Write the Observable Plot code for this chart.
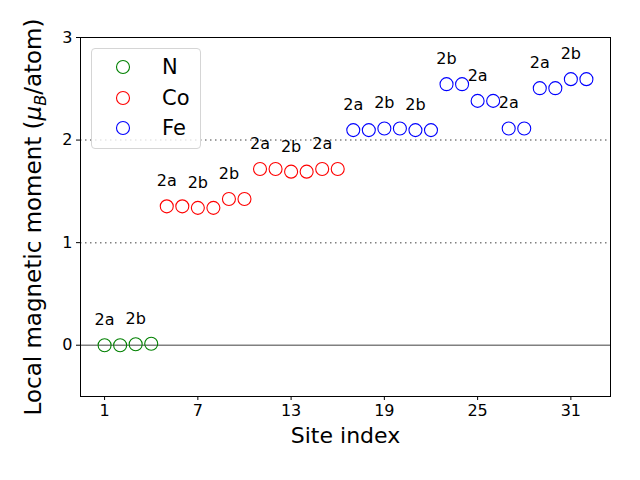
<!DOCTYPE html>
<html><head><meta charset="utf-8">
<script src="https://cdn.jsdelivr.net/npm/d3@7"></script>
<script src="https://cdn.jsdelivr.net/npm/@observablehq/plot@0.6"></script>
<style>
body{margin:0;background:#fff;}
#wrap{position:relative;width:640px;height:480px;font-family:"DejaVu Sans",sans-serif;}
.legend{position:absolute;left:91px;top:48px;width:110px;height:101px;border:1px solid #d5d5d5;border-radius:4px;background:rgba(255,255,255,0.8);box-sizing:border-box;}
.legend .row{position:absolute;left:0;height:30px;}
.legend svg{position:absolute;left:22px;}
.legend span{position:absolute;left:70px;font-size:21px;white-space:nowrap;line-height:30px;}
</style></head>
<body><div id="wrap"></div>
<script>
const elements = ["N", "Co", "Fe"];
const elementColors = ["#008000", "#ff0000", "#0000ff"];
const nSites = [1, 2, 3, 4];
const nMoments = [0.0, 0.0, 0.01, 0.015];
const coSites = [5, 6, 7, 8, 9, 10, 11, 12, 13, 14, 15, 16];
const coMoments = [1.354, 1.354, 1.339, 1.339, 1.426, 1.426, 1.718, 1.718, 1.692, 1.692, 1.718, 1.718];
const feSites = [17, 18, 19, 20, 21, 22, 23, 24, 25, 26, 27, 28, 29, 30, 31, 32];
const feMoments = [2.097, 2.097, 2.113, 2.113, 2.097, 2.097, 2.545, 2.545, 2.382, 2.382, 2.113, 2.113, 2.506, 2.506, 2.594, 2.594];
const labelSites = [1, 3, 5, 7, 9, 11, 13, 15, 17, 19, 21, 23, 25, 27, 29, 31];
const labelTexts = ["2a", "2b", "2a", "2b", "2b", "2a", "2b", "2a", "2a", "2b", "2b", "2b", "2a", "2a", "2a", "2b"];
const xTicks = [1, 7, 13, 19, 25, 31];
const yTicks = [0, 1, 2, 3];
const gridLevels = [1, 2];

const rows = [];
nSites.forEach((s, i) => rows.push({site: s, moment: nMoments[i], element: "N"}));
coSites.forEach((s, i) => rows.push({site: s, moment: coMoments[i], element: "Co"}));
feSites.forEach((s, i) => rows.push({site: s, moment: feMoments[i], element: "Fe"}));
const momentBySite = new Map(rows.map(d => [d.site, d.moment]));
const labels = labelSites.map((s, i) => ({site: s, moment: momentBySite.get(s), text: labelTexts[i]}));

const chart = Plot.plot({
  width: 640, height: 480,
  marginLeft: 80, marginRight: 30, marginTop: 37, marginBottom: 84,
  style: {fontFamily: "DejaVu Sans, sans-serif", fontSize: "16px", color: "black", background: "white"},
  x: {domain: [-0.55, 33.55]},
  y: {domain: [-0.5, 3]},
  color: {domain: elements, range: elementColors},
  marks: [
    Plot.ruleY(gridLevels, {stroke: "gray", strokeWidth: 1.5, strokeDasharray: "1.5,3.5"}),
    Plot.ruleY([0], {stroke: "gray", strokeWidth: 1.5}),
    Plot.frame({stroke: "black", strokeWidth: 1}),
    Plot.axisX({ticks: xTicks, tickFormat: "d", tickSize: 4, tickPadding: 4, fontSize: 16, label: "Site index", labelAnchor: "center", labelArrow: "none", labelOffset: 46}),
    Plot.axisY({ticks: yTicks, tickFormat: "d", tickSize: 4, tickPadding: 4, fontSize: 16, label: null}),
    Plot.dot(rows, {x: "site", y: "moment", stroke: "element", r: 6.5, strokeWidth: 1.1, fill: "none"}),
    Plot.text(labels, {x: "site", y: "moment", text: "text", dy: -20, lineAnchor: "bottom", fontSize: 16, fill: "black"})
  ]
});
d3.select(chart).selectAll("g[aria-label='x-axis label'] text").style("font-size", "22px");
// y label with italic mu and subscript B
const svg = d3.select(chart);
const yl = svg.append("text")
  .attr("transform", "translate(41,217) rotate(-90)")
  .attr("text-anchor", "middle")
  .attr("font-size", "23px")
  .attr("fill", "black");
yl.append("tspan").text("Local magnetic moment (");
yl.append("tspan").attr("font-style", "italic").text("μ");
yl.append("tspan").attr("font-style", "italic").attr("font-size", "16px").attr("dy", "5").text("B");
yl.append("tspan").attr("dy", "-5").text("/atom)");
const wrap = document.getElementById("wrap");
wrap.appendChild(chart);

const legend = document.createElement("div");
legend.className = "legend";
elements.forEach((el, i) => {
  const row = document.createElement("div");
  row.className = "row";
  row.style.top = (3 + i * 30.5) + "px";
  row.style.width = "100%";
  row.innerHTML = `<svg width="18" height="30"><circle cx="9" cy="15" r="6.5" fill="none" stroke="${elementColors[i]}" stroke-width="1.1"/></svg><span>${el}</span>`;
  legend.appendChild(row);
});
wrap.appendChild(legend);
</script></body></html>
